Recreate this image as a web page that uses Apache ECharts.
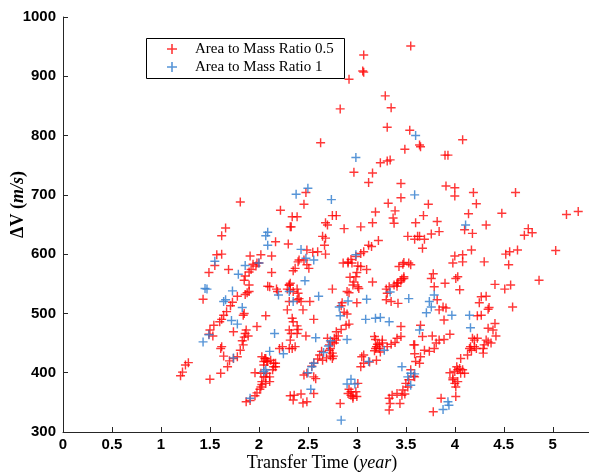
<!DOCTYPE html>
<html>
<head>
<meta charset="utf-8">
<script src="https://cdn.jsdelivr.net/npm/echarts@6/dist/echarts.min.js"></script>
<style>
  html, body { margin: 0; padding: 0; background: #fff; }
  #chart { width: 589px; height: 475px; }
</style>
</head>
<body>
<div id="chart"></div>
<script>
// Transfer time (years) vs. delta-V (m/s) for two area-to-mass ratios.
const xTickValues = [0, 0.5, 1, 1.5, 2, 2.5, 3, 3.5, 4, 4.5, 5];
const yTickValues = [300, 400, 500, 600, 700, 800, 900, 1000];

// Area to Mass Ratio 0.5 — [transfer time, delta-V]
const ratio05High = [
  [3.55,951],[3.07,936],[3.06,909],[3.07,907],[2.92,895],[2.83,845],[3.29,867],[3.35,847],[3.31,814],[3.54,809],
  [2.63,788],[4.08,793],[3.64,784],[3.65,781],[3.49,777],[3.90,767],[3.93,767],[3.24,754],[3.31,757],[3.34,759],
  [2.97,738],[3.16,737],[3.12,721],[3.45,719],[3.91,715],[4.00,712],[4.00,698],[4.19,704],[3.45,695],[4.62,704],
  [2.48,704],[2.46,684],[1.81,688],[3.32,686],[3.73,684],[4.22,685],[2.22,674],[3.39,673],[3.19,671],[4.48,669],
  [4.14,668],[5.14,667],[5.26,672],[2.34,663],[2.39,663],[2.75,665],[2.79,665],[3.37,661],[3.68,665],[2.68,653],
  [2.70,649],[4.32,649],[3.38,652],[3.60,653],[3.82,655],[3.16,653],[2.32,646],[2.33,646],[2.87,643],[3.04,646],
  [1.66,644],[4.75,643]
];
const ratio05Left = [
  [1.62,631],[1.57,599],[1.62,600],[1.55,581],[1.49,569],[1.69,574],[1.91,597],[2.02,599],[1.94,583],[1.97,580],
  [1.92,574],[1.90,570],[1.86,563],[1.85,556],[1.98,585],[2.00,585],[1.90,548],[1.88,535],[1.86,532],[1.78,529],
  [1.90,537],[2.09,546],[1.43,524],[1.73,519],[1.71,513],[1.67,503],[1.64,497],[1.62,490],[1.60,486],[1.85,500],
  [1.84,497],[1.98,478],[1.87,472],[1.86,466],[1.89,462],[1.85,460],[1.83,454],[1.84,447],[1.81,438],[1.78,427],
  [1.74,424],[1.70,420],[1.68,410],[1.61,399],[1.50,389],[1.74,469],[1.54,480],[1.50,472],[1.49,465],[1.53,462],
  [1.62,444],[1.61,441],[1.64,428],[1.28,417],[1.25,413],[1.22,401],[1.20,395],[2.06,424],[2.08,419],[2.05,413],
  [1.96,400],[2.07,393],[2.03,380],[2.01,372],[1.98,366],[1.96,361],[1.91,353],[1.87,351],[2.07,496]
];
const ratio05Middle = [
  [2.17,621],[2.13,597],[2.30,617],[2.49,607],[2.55,603],[2.60,604],[2.65,630],[2.68,627],[2.67,615],[2.68,600],
  [2.40,587],[2.46,590],[2.49,582],[2.51,576],[2.91,587],[2.94,591],[2.95,585],[2.99,596],[3.04,601],[3.07,604],
  [3.12,615],[3.15,613],[3.22,623],[3.01,580],[3.04,579],[3.10,574],[3.00,569],[2.99,562],[2.86,585],[2.91,585],
  [3.52,630],[3.59,625],[3.62,630],[3.53,585],[3.48,586],[3.47,583],[3.43,579],[3.46,558],[3.48,562],[3.42,552],
  [3.41,546],[3.38,548],[3.33,545],[3.30,541],[3.31,534],[2.13,569],[2.35,572],[2.75,541],[2.11,545],[2.18,541],
  [2.19,537],[2.29,541],[2.31,548],[2.32,540],[2.35,537],[2.39,541],[2.40,534],[2.41,525],[2.43,520],[2.39,523],
  [2.31,520],[2.29,506],[2.34,492],[2.35,486],[2.39,479],[2.40,473],[2.52,520],[2.45,506],[2.56,490],[2.48,462],
  [2.32,455],[2.31,472],[2.90,537],[2.85,518],[2.84,513],[3.00,518],[3.02,542],[2.96,548],[3.30,523],[3.35,520],
  [3.42,517],[3.18,461],[3.19,456],[2.89,480],[2.92,482],[2.84,473],[2.79,469],[2.81,462],[2.77,458],[2.75,452],
  [2.72,447],[2.73,441],[2.75,433],[2.73,428],[2.69,425],[2.65,421],[2.60,423],[2.56,416],[2.54,411],[2.49,399],
  [2.56,393],[2.46,396],[3.05,427],[3.07,430],[3.04,410],[3.07,416],[3.18,437],[3.23,441],[3.26,450],[3.21,448],
  [3.41,458],[3.39,451],[3.35,448],[3.31,444],[3.45,461],[3.45,478],[3.58,447],[3.59,432],[3.53,388],[3.58,394],
  [3.50,382],[3.52,376],[3.36,362],[3.41,365],[3.46,362],[3.49,364],[3.33,357],[3.34,348],[3.33,337],[2.32,361],
  [2.35,354],[2.43,364],[2.45,349],[2.49,351],[2.83,348],[2.92,372],[2.94,362],[2.96,360],[2.91,365],[2.99,368],
  [2.03,427],[2.07,424],[2.09,419],[2.12,421],[2.15,416],[2.17,410],[2.14,405],[2.02,399],[2.05,393],[2.11,385],
  [2.07,382],[2.02,376],[2.21,441],[2.24,444],[3.44,348],[3.47,371],[3.01,382],[3.13,418],[3.20,421],[3.00,360],
  [3.24,435],[3.20,444],[3.16,553],[3.01,545],[2.93,561],[2.97,553],[2.87,502],[2.90,499],[2.92,535],[2.58,390],
  [2.56,365],[2.62,430],[2.64,436],[2.37,576],[2.41,590],[2.39,466],[2.31,441],[2.34,441],[2.37,444],[2.33,466],
  [2.70,458],[2.77,450],[2.79,455],[2.72,438],[2.75,424],[2.76,428],[2.15,410],[2.17,416],[2.05,419],[2.08,399],
  [2.03,385],[2.11,393],[3.41,551],[3.45,555],[3.48,559],[3.23,447],[3.26,455],[3.19,441],[2.31,548],[2.32,551],
  [2.94,368],[2.96,357],[2.36,362]
];
const ratio05Right = [
  [3.64,630],[3.69,625],[3.76,634],[3.84,638],[3.67,610],[4.10,641],[4.18,635],[4.71,632],[4.79,636],[5.03,606],
  [4.17,607],[4.08,599],[4.00,597],[3.98,585],[4.30,587],[4.08,587],[4.52,600],[4.56,604],[4.64,607],[4.55,582],
  [3.55,582],[3.78,567],[3.76,559],[3.90,551],[4.01,559],[4.03,562],[4.05,540],[3.79,545],[4.41,549],[4.51,541],
  [4.57,548],[4.86,556],[4.59,511],[4.27,528],[4.32,529],[4.25,518],[4.35,510],[4.34,507],[3.82,523],[3.88,511],
  [3.84,506],[3.91,509],[3.89,489],[3.95,465],[3.65,480],[3.67,461],[3.77,462],[3.59,447],[4.23,496],[4.27,497],
  [4.41,483],[4.39,472],[4.42,462],[4.34,475],[4.18,458],[4.20,455],[4.32,455],[4.37,450],[4.29,441],[4.29,433],
  [4.22,441],[4.16,444],[4.17,438],[4.13,430],[4.06,424],[4.02,410],[4.00,402],[4.05,407],[4.08,405],[4.10,399],
  [3.95,400],[3.98,391],[4.00,382],[4.03,385],[4.01,376],[4.01,360],[3.86,357],[3.78,334],[3.65,427],[3.69,438],
  [3.74,436],[3.79,441],[3.81,450],[3.84,455],[3.89,456],[3.60,419],[3.64,416],[3.59,393],[3.55,405],
  [4.23,458],[4.34,452],[4.30,447],[4.20,444],[4.15,441],[4.03,405],[4.06,399],[3.98,388]
];

// Area to Mass Ratio 1 — [transfer time, delta-V]
const ratio1Points = [
  [2.99,763],[2.50,711],[2.38,701],[2.74,692],[2.09,637],[3.60,800],[3.59,700],[4.11,649],
  [1.55,588],[1.79,566],[1.86,581],[2.07,631],[2.09,615],[1.45,542],[1.47,541],[1.64,520],[1.66,523],[1.73,538],
  [1.83,510],[1.72,488],[1.78,482],[1.43,452],[1.49,464],[1.74,425],[2.05,402],[1.91,357],
  [2.43,608],[2.48,593],[2.56,590],[2.47,555],[2.20,531],[2.31,537],[2.35,520],[2.61,529],[2.16,466],[2.82,511],
  [2.91,521],[2.83,496],[3.10,524],[3.09,490],[3.19,492],[3.24,493],[3.33,486],[2.90,456],[2.73,454],[2.71,445],
  [2.66,434],[2.56,416],[2.54,410],[2.50,400],[3.12,419],[3.46,410],[3.52,393],[3.55,399],[2.53,372],[2.84,320],
  [2.90,381],[2.94,389],[2.98,381],[2.11,436],[2.07,405],[2.25,432],[2.99,599],
  [3.79,531],[3.74,520],[3.76,511],[3.71,501],[3.97,497],[4.15,497],[4.16,476],[3.64,472],[3.59,398],[3.55,379],
  [3.93,351],[3.88,338],[3.34,536],[3.53,525],[3.94,345],[3.28,438],[2.58,459],[2.00,585]
];

const ratio05Points = ratio05High.concat(ratio05Left, ratio05Middle, ratio05Right);

// Thin plus marker
const plusPath = 'path://M4.2,0H5.8V4.2H10V5.8H5.8V10H4.2V5.8H0V4.2H4.2Z';
const axisColor = '#262626';
const serif = '"Liberation Serif", "DejaVu Serif", serif';
const sans = '"Liberation Sans", Arial, sans-serif';

const chart = echarts.init(document.getElementById('chart'), null, { renderer: 'canvas' });

chart.setOption({
  animation: false,
  backgroundColor: '#ffffff',
  grid: { left: 63, top: 17, right: 0, bottom: 43, containLabel: false, outerBoundsMode: 'none' },
  graphic: [{
    type: 'rect',
    z: 3,
    silent: true,
    shape: { x: 146.5, y: 38.5, width: 198, height: 40 },
    style: { fill: '#fff', stroke: '#000', lineWidth: 1 }
  }],
  legend: {
    left: 167,
    top: 40,
    z: 5,
    orient: 'vertical',
    padding: 0,
    itemGap: 0,
    itemWidth: 10,
    itemHeight: 10,
    textStyle: { fontFamily: serif, fontSize: 15, color: '#000', lineHeight: 18, padding: [0, 0, 0, 13] },
    data: [
      { name: 'Area to Mass Ratio 0.5', icon: plusPath },
      { name: 'Area to Mass Ratio 1', icon: plusPath }
    ]
  },
  xAxis: {
    type: 'value',
    min: 0,
    max: 5.37,
    interval: 0.5,
    splitLine: { show: false },
    axisLine: { lineStyle: { color: axisColor, width: 1 } },
    axisTick: { inside: true, length: 5, lineStyle: { color: axisColor } },
    axisLabel: {
      margin: 5,
      color: '#000',
      fontFamily: sans,
      fontWeight: 'bold',
      fontSize: 15,
      formatter: function (v) {
        const ok = xTickValues.some(t => Math.abs(t - v) < 1e-6);
        return ok ? String(v) : '';
      }
    },
    name: '{n|Transfer Time (}{i|year}{n|)}',
    nameLocation: 'middle',
    nameGap: 22,
    nameMoveOverlap: false,
    nameTextStyle: {
      padding: [0, 8, 0, 0],
      rich: {
        n: { fontFamily: serif, fontSize: 18, color: '#000' },
        i: { fontFamily: serif, fontSize: 18, color: '#000', fontStyle: 'italic' }
      }
    }
  },
  yAxis: {
    type: 'value',
    min: yTickValues[0],
    max: yTickValues[yTickValues.length - 1],
    interval: 100,
    splitLine: { show: false },
    axisLine: { show: true, lineStyle: { color: axisColor, width: 1 } },
    axisTick: { show: true, inside: true, length: 5, lineStyle: { color: axisColor } },
    axisLabel: {
      margin: 7,
      color: '#000',
      fontFamily: sans,
      fontWeight: 'bold',
      fontSize: 15,
      formatter: function (v) { return String(v); }
    },
    // leading spacer lifts the rotated title above the axis middle
    name: '{s|}{n|ΔV (}{i|m/s}{n|)}',
    nameLocation: 'middle',
    nameGap: 36,
    nameMoveOverlap: false,
    nameTextStyle: {
      rich: {
        s: { width: 40, fontSize: 18 },
        n: { fontFamily: serif, fontSize: 18, color: '#000', fontWeight: 'bold' },
        i: { fontFamily: serif, fontSize: 18, color: '#000', fontStyle: 'italic', fontWeight: 'bold' }
      }
    }
  },
  series: [
    {
      name: 'Area to Mass Ratio 0.5',
      type: 'scatter',
      symbol: plusPath,
      symbolSize: 9,
      itemStyle: { color: '#ff0000', opacity: 0.78 },
      data: ratio05Points
    },
    {
      name: 'Area to Mass Ratio 1',
      type: 'scatter',
      symbol: plusPath,
      symbolSize: 9,
      itemStyle: { color: '#3a82d0', opacity: 0.85 },
      data: ratio1Points
    }
  ]
});
</script>
</body>
</html>
